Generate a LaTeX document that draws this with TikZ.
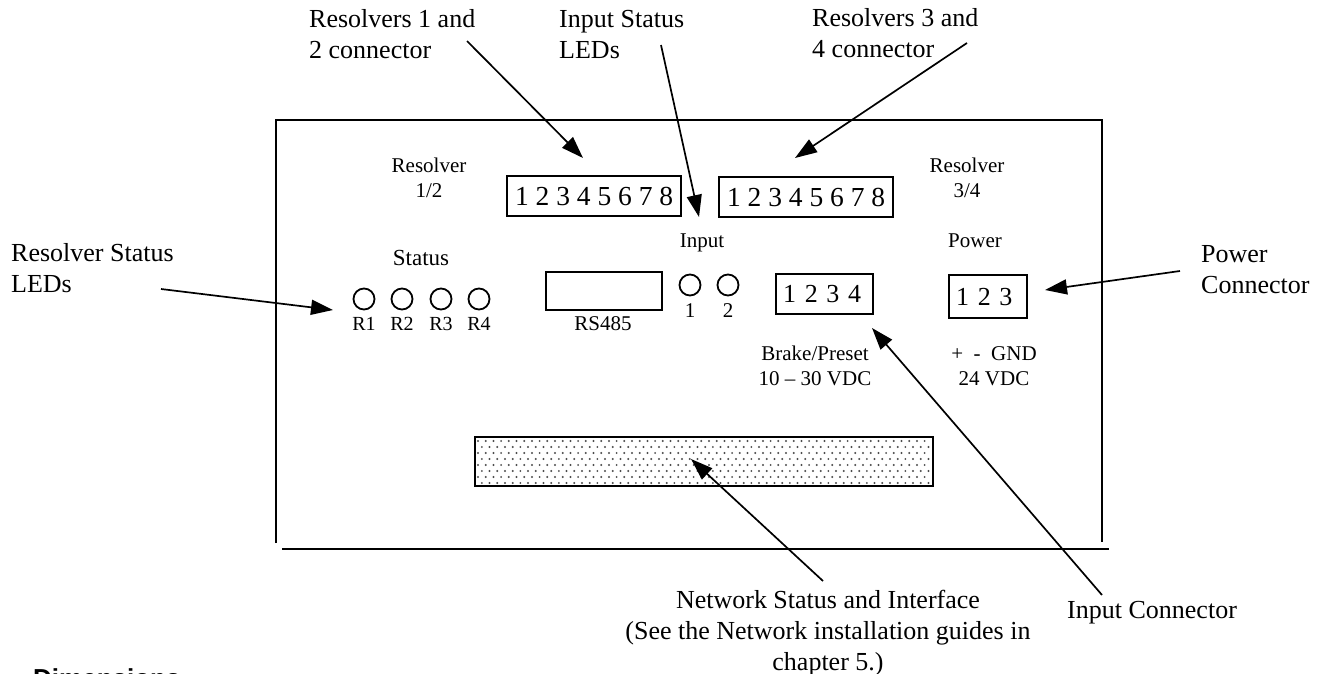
\documentclass[tikz,border=0pt]{standalone}
\usepackage{fontspec}
\setmainfont{Liberation Serif}
\newfontfamily\headsans{Liberation Sans}
\usetikzlibrary{arrows.meta}
\tikzset{
  big/.style={font=\fontsize{26pt}{31pt}\selectfont, inner sep=0pt},
  small/.style={font=\fontsize{21pt}{25pt}\selectfont, inner sep=0pt},
  pins/.style={draw, line width=2.2pt, inner ysep=0pt, inner xsep=7pt, align=left, anchor=north west, font=\fontsize{26pt}{30pt}\selectfont},
  pins8/.style={draw, line width=2.2pt, inner sep=0pt, anchor=north west, minimum width=174pt, minimum height=40pt, font=\fontsize{27.5pt}{30pt}\selectfont},
  led/.style={draw, circle, line width=1.8pt, minimum size=21pt, inner sep=0pt},
  arr/.style={line width=1.7pt, -{Triangle[length=22pt,width=15pt]}},
  frame/.style={line width=2pt},
}
\begin{document}
\begin{tikzpicture}[x=1pt,y=-1pt]
\useasboundingbox (0,0) rectangle (1324,674);

% housing
\draw[frame] (276,543) -- (276,120) -- (1102,120) -- (1102,542);
\draw[frame] (282,549) -- (1109,549);

% connectors
\node[pins8] (c12) at (506,175) {1 2 3 4 5 6 7 8};
\node[pins8] (c34) at (718,176) {1 2 3 4 5 6 7 8};
\node[pins, text width=83pt, minimum height=40pt] (cbrake) at (775,273) {1 2 3 4};
\node[pins, text width=64pt, minimum height=43pt] (cpow) at (948,274) {1 2 3};
\node[draw, line width=2.2pt, minimum width=116pt, minimum height=38pt, inner sep=0pt, anchor=north west] (rs) at (545,271) {};

% network interface
\node[draw, fill=white, line width=2pt, minimum width=458pt, minimum height=49pt, inner sep=0pt, anchor=north west] (net) at (474,436) {};
\foreach \r in {0,...,7} {
  \foreach \c in {0,...,58} {
    \pgfmathsetmacro\xx{478+7.7*\c+mod(\r,2)*3.85}
    \pgfmathsetmacro\yy{441+6*\r}
    \fill[black!70] (\xx,\yy) circle (1.1pt);
  }
}

% LEDs
\node[led] (r1) at (364,299) {};
\node[led] (r2) at (402,299) {};
\node[led] (r3) at (441,299) {};
\node[led] (r4) at (479,299) {};
\node[led] (i1) at (690,285) {};
\node[led] (i2) at (728,285) {};

% panel labels
\node[small, anchor=base, align=center] (lres12) at (429,197) {Resolver\\1/2};
\node[small, anchor=base, align=center] (lres34) at (967,197) {Resolver\\3/4};
\node[small, anchor=base, font=\fontsize{23pt}{25pt}\selectfont] (lstatus) at (421,265) {Status};
\node[small, anchor=base, font=\fontsize{20pt}{24pt}\selectfont] (lr1) at (364,330) {R1};
\node[small, anchor=base, font=\fontsize{20pt}{24pt}\selectfont] (lr2) at (402,330) {R2};
\node[small, anchor=base, font=\fontsize{20pt}{24pt}\selectfont] (lr3) at (441,330) {R3};
\node[small, anchor=base, font=\fontsize{20pt}{24pt}\selectfont] (lr4) at (479,330) {R4};
\node[small, anchor=base] (linput) at (702,247) {Input};
\node[small, anchor=base] (lpower) at (975,247) {Power};
\node[small, anchor=base] (li1) at (690,317) {1};
\node[small, anchor=base] (li2) at (728,317) {2};
\node[small, anchor=base] (lrs) at (603,330) {RS485};
\node[small, anchor=base, align=center] (lbrake) at (815,385) {Brake/Preset\\10 -- 30 VDC};
\node[small, anchor=base, align=center] (lgnd) at (994,385) {+~~-~~GND\\24 VDC};

% callout labels
\node[big, anchor=base west, align=left] (lc12) at (309,59) {Resolvers 1 and\\2 connector};
\node[big, anchor=base west, align=left] (lis) at (559,59) {Input Status\\LEDs};
\node[big, anchor=base west, align=left] (lc34) at (812,58) {Resolvers 3 and\\4 connector};
\node[big, anchor=base west, align=left] (lrst) at (11,292) {Resolver Status\\LEDs};
\node[big, anchor=base west, align=left] (lpc) at (1201,293) {Power\\Connector};
\node[big, anchor=base west] (lic) at (1067,618) {Input Connector};
\node[big, anchor=base, align=center] (lnet) at (828,670) {Network Status and Interface\\(See the Network installation guides in\\chapter 5.)};
\node[anchor=base west, inner sep=0pt, font=\headsans\bfseries\fontsize{26pt}{30pt}\selectfont] (ldim) at (33,687) {Dimensions};

% arrow ends
\coordinate (a1) at (467,41);   \coordinate (t1) at (583,158);
\coordinate (a2) at (661,45);   \coordinate (t2) at (699,217);
\coordinate (a3) at (967,43);   \coordinate (t3) at (795,158);
\coordinate (a4) at (161,289);  \coordinate (t4) at (333,310);
\coordinate (a5) at (1180,271); \coordinate (t5) at (1045,290);
\coordinate (a6) at (1102,595); \coordinate (t6) at (872,328);
\coordinate (a7) at (823,581);  \coordinate (t7) at (691,459);

\draw[arr] (a1) -- (t1);
\draw[arr] (a2) -- (t2);
\draw[arr] (a3) -- (t3);
\draw[arr] (a4) -- (t4);
\draw[arr] (a5) -- (t5);
\draw[arr] (a6) -- (t6);
\draw[arr] (a7) -- (t7);
\end{tikzpicture}
\end{document}
